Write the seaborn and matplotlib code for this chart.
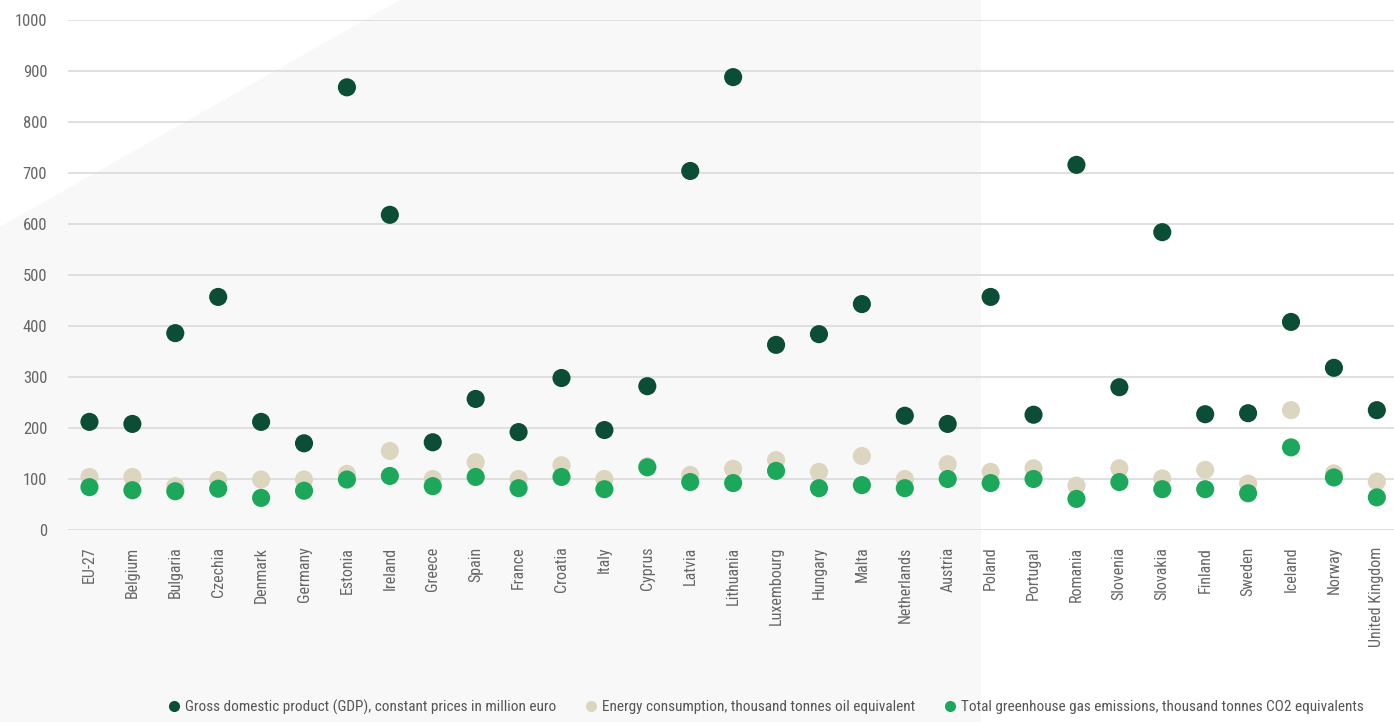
import matplotlib
matplotlib.use("Agg")
import matplotlib.pyplot as plt
from matplotlib.patches import Polygon
from matplotlib import font_manager
import seaborn as sns
import pandas as pd

countries = ["EU-27", "Belgium", "Bulgaria", "Czechia", "Denmark", "Germany", "Estonia",
             "Ireland", "Greece", "Spain", "France", "Croatia", "Italy", "Cyprus", "Latvia",
             "Lithuania", "Luxembourg", "Hungary", "Malta", "Netherlands", "Austria", "Poland",
             "Portugal", "Romania", "Slovenia", "Slovakia", "Finland", "Sweden", "Iceland",
             "Norway", "United Kingdom"]
gdp = [212, 208, 386, 457, 212, 170, 868, 618, 172, 257, 192, 298, 196, 282, 704,
       888, 363, 384, 443, 224, 208, 457, 226, 716, 280, 584, 227, 229, 408, 318, 235]
energy = [104, 104, 86, 98, 99, 99, 110, 155, 100, 133, 100, 127, 100, 125, 108,
          120, 137, 114, 145, 100, 129, 114, 121, 87, 121, 101, 118, 91, 235, 111, 95]
ghg = [84, 78, 76, 81, 63, 77, 99, 106, 86, 104, 82, 104, 80, 123, 94,
       92, 116, 82, 88, 82, 100, 92, 100, 61, 94, 80, 80, 72, 162, 103, 64]

series = ["Gross domestic product (GDP), constant prices in million euro",
          "Energy consumption, thousand tonnes oil equivalent",
          "Total greenhouse gas emissions, thousand tonnes CO2 equivalents"]
colors = ["#0b4d35", "#dcd5bf", "#1ca75a"]

df = pd.concat([
    pd.DataFrame({"country": countries, "value": vals, "series": name})
    for name, vals in zip(series, [gdp, energy, ghg])
])

sns.set_theme(style="white")
names = {f.name for f in font_manager.fontManager.ttflist}
narrow = [n for n in ["Liberation Sans Narrow", "Roboto Condensed", "Open Sans Condensed"] if n in names]
plt.rcParams["font.family"] = narrow + ["DejaVu Sans"]
plt.rcParams["font.stretch"] = "condensed"

fig = plt.figure(figsize=(13.94, 7.22), dpi=100)
fig.patch.set_facecolor("white")
# decorative light grey backdrop
W, H = 1394, 722
pts = [(0, 227), (400, 0), (981, 0), (981, 722), (0, 722)]
fig.patches.append(Polygon([(x / W, 1 - y / H) for x, y in pts], closed=True,
                           transform=fig.transFigure, facecolor="#f8f8f8",
                           edgecolor="none", zorder=-5))

ax = fig.add_axes([68 / W, 1 - 530 / H, 1 - 68 / W, 510 / H])
ax.set_facecolor("none")

sns.scatterplot(data=df, x="country", y="value", hue="series", palette=colors,
                s=170, linewidth=0, ax=ax, legend=False, zorder=3, clip_on=False)

ax.set_ylim(0, 1000)
ax.set_xlim(-0.5, 30.4)
ax.set_yticks(range(0, 1001, 100))
ax.grid(axis="y", color="#dddddd", linewidth=1.3)
ax.set_axisbelow(True)
for sp in ax.spines.values():
    sp.set_visible(False)
ax.set_xlabel("")
ax.set_ylabel("")
ax.tick_params(axis="y", length=0, pad=15, labelsize=12, labelcolor="#666666")
ax.tick_params(axis="x", length=0, pad=12, labelsize=11.5, labelcolor="#666666",
               labelrotation=90)

handles = [plt.Line2D([], [], marker="o", linestyle="", markersize=8,
                      markerfacecolor=c, markeredgewidth=0) for c in colors]
fig.legend(handles, series, loc="center", bbox_to_anchor=(0.549, 1 - 707 / H),
           ncol=3, frameon=False, fontsize=11, handletextpad=0.2, columnspacing=1.8,
           labelcolor="#555555", handlelength=1)

fig.savefig("out.png", dpi=100)
